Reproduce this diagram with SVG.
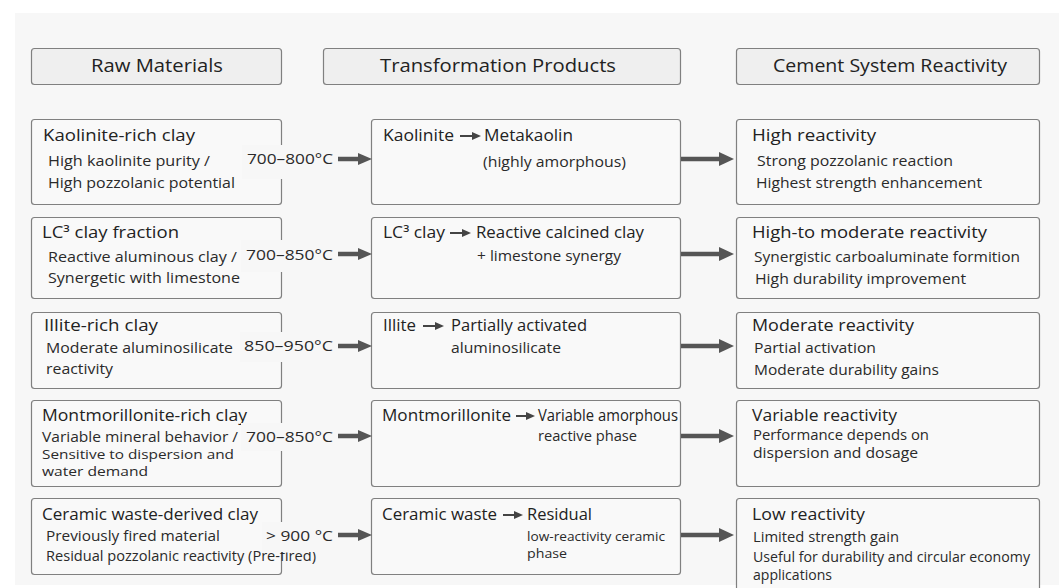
<svg xmlns="http://www.w3.org/2000/svg" width="1059" height="588" viewBox="0 0 1059 588">
<defs>
<style>
.bg{fill:#f7f7f7}
.hdr{fill:#efefef;stroke:#808080;stroke-width:1.2}
.box{fill:#f9f9f9;stroke:#808080;stroke-width:1.2}
text{font-family:"Open Sans","Noto Sans","DejaVu Sans",sans-serif;fill:#222}
.h{font-size:17.5px}
.t{font-size:15.5px}
.b{font-size:14px;fill:#2a2a2a}
.s{font-size:13.8px;fill:#2a2a2a}
.xs{font-size:13px;fill:#2a2a2a}
.temp{font-size:15px;fill:#2a2a2a}
.lblbg{fill:#f7f7f7}
.conn{stroke:#555;stroke-width:4.5;fill:none}
.head{fill:#555}
.ia{stroke:#444;stroke-width:2;fill:none}
.iah{fill:#444}
</style>
</defs>
<rect x="0" y="0" width="1059" height="588" fill="#ffffff"/>
<rect class="bg" x="15" y="13" width="1044" height="572"/>

<g id="header-raw"><rect class="hdr" x="31.5" y="48.5" width="250" height="36" rx="3"/><text class="h" x="91" y="72" textLength="132" lengthAdjust="spacingAndGlyphs">Raw Materials</text></g>
<g id="header-trans"><rect class="hdr" x="323.5" y="48.5" width="357" height="36" rx="3"/><text class="h" x="380" y="72" textLength="236" lengthAdjust="spacingAndGlyphs">Transformation Products</text></g>
<g id="header-react"><rect class="hdr" x="736.5" y="48.5" width="303" height="36" rx="3"/><text class="h" x="773" y="72" textLength="234" lengthAdjust="spacingAndGlyphs">Cement System Reactivity</text></g>

<!-- Row 1 -->
<g id="raw-1"><rect class="box" x="31.5" y="119.5" width="250" height="85" rx="3"/>
<text class="t" x="43" y="141" textLength="152" lengthAdjust="spacingAndGlyphs">Kaolinite-rich clay</text>
<text class="b" x="48" y="166" textLength="162" lengthAdjust="spacingAndGlyphs">High kaolinite purity /</text>
<text class="b" x="48" y="188" textLength="187" lengthAdjust="spacingAndGlyphs">High pozzolanic potential</text></g>
<g id="trans-1"><rect class="box" x="371.5" y="119.5" width="309" height="85" rx="3"/>
<text class="t" x="383" y="141" textLength="71" lengthAdjust="spacingAndGlyphs">Kaolinite</text>
<text class="t" x="484" y="141" textLength="89" lengthAdjust="spacingAndGlyphs">Metakaolin</text>
<text class="b" x="483" y="167" textLength="143" lengthAdjust="spacingAndGlyphs">(highly amorphous)</text>
<line class="ia" x1="460" y1="136" x2="474" y2="136"/><polygon class="iah" points="472,132 481,136 472,140"/></g>
<g id="react-1"><rect class="box" x="736.5" y="119.5" width="303" height="85" rx="3"/>
<text class="t" x="752" y="141" textLength="124" lengthAdjust="spacingAndGlyphs">High reactivity</text>
<text class="b" x="757" y="166" textLength="196" lengthAdjust="spacingAndGlyphs">Strong pozzolanic reaction</text>
<text class="b" x="756" y="188" textLength="226" lengthAdjust="spacingAndGlyphs">Highest strength enhancement</text></g>

<!-- Row 2 -->
<g id="raw-2"><rect class="box" x="31.5" y="217.5" width="250" height="81" rx="3"/>
<text class="t" x="42" y="238" textLength="137" lengthAdjust="spacingAndGlyphs">LC³ clay fraction</text>
<text class="b" x="48" y="262" textLength="189" lengthAdjust="spacingAndGlyphs">Reactive aluminous clay /</text>
<text class="b" x="48" y="283" textLength="192" lengthAdjust="spacingAndGlyphs">Synergetic with limestone</text></g>
<g id="trans-2"><rect class="box" x="371.5" y="217.5" width="309" height="81" rx="3"/>
<text class="t" x="383" y="238" textLength="62" lengthAdjust="spacingAndGlyphs">LC³ clay</text>
<text class="t" x="476" y="238" textLength="168" lengthAdjust="spacingAndGlyphs">Reactive calcined clay</text>
<text class="b" x="477" y="261" textLength="144" lengthAdjust="spacingAndGlyphs">+ limestone synergy</text>
<line class="ia" x1="450" y1="233" x2="464" y2="233"/><polygon class="iah" points="462,229 471,233 462,237"/></g>
<g id="react-2"><rect class="box" x="736.5" y="217.5" width="303" height="81" rx="3"/>
<text class="t" x="752" y="238" textLength="235" lengthAdjust="spacingAndGlyphs">High-to moderate reactivity</text>
<text class="b" x="754" y="262" textLength="266" lengthAdjust="spacingAndGlyphs">Synergistic carboaluminate formition</text>
<text class="b" x="755" y="284" textLength="211" lengthAdjust="spacingAndGlyphs">High durability improvement</text></g>

<!-- Row 3 -->
<g id="raw-3"><rect class="box" x="31.5" y="312.5" width="250" height="76" rx="3"/>
<text class="t" x="44" y="331" textLength="114" lengthAdjust="spacingAndGlyphs">Illite-rich clay</text>
<text class="b" x="46" y="353" textLength="187" lengthAdjust="spacingAndGlyphs">Moderate aluminosilicate</text>
<text class="b" x="46" y="374" textLength="67" lengthAdjust="spacingAndGlyphs">reactivity</text></g>
<g id="trans-3"><rect class="box" x="371.5" y="312.5" width="309" height="76" rx="3"/>
<text class="t" x="383" y="331" textLength="33" lengthAdjust="spacingAndGlyphs">Illite</text>
<text class="t" x="451" y="331" textLength="136" lengthAdjust="spacingAndGlyphs">Partially activated</text>
<text class="b" x="451" y="353" textLength="110" lengthAdjust="spacingAndGlyphs">aluminosilicate</text>
<line class="ia" x1="423" y1="326" x2="437" y2="326"/><polygon class="iah" points="435,322 444,326 435,330"/></g>
<g id="react-3"><rect class="box" x="736.5" y="312.5" width="303" height="76" rx="3"/>
<text class="t" x="752" y="331" textLength="162" lengthAdjust="spacingAndGlyphs">Moderate reactivity</text>
<text class="b" x="754" y="353" textLength="122" lengthAdjust="spacingAndGlyphs">Partial activation</text>
<text class="b" x="754" y="375" textLength="185" lengthAdjust="spacingAndGlyphs">Moderate durability gains</text></g>

<!-- Row 4 -->
<g id="raw-4"><rect class="box" x="31.5" y="400.5" width="250" height="86" rx="3"/>
<text class="t" x="42" y="421" textLength="205" lengthAdjust="spacingAndGlyphs">Montmorillonite-rich clay</text>
<text class="b" x="42" y="442" textLength="196" lengthAdjust="spacingAndGlyphs">Variable mineral behavior /</text>
<text class="xs" x="42" y="459" textLength="192" lengthAdjust="spacingAndGlyphs">Sensitive to dispersion and</text>
<text class="xs" x="42" y="476" textLength="106" lengthAdjust="spacingAndGlyphs">water demand</text></g>
<g id="trans-4"><rect class="box" x="371.5" y="400.5" width="309" height="86" rx="3"/>
<text class="t" x="382" y="421" textLength="129" lengthAdjust="spacingAndGlyphs">Montmorillonite</text>
<text class="t" x="538" y="421" textLength="140" lengthAdjust="spacingAndGlyphs">Variable amorphous</text>
<text class="b" x="538" y="441" textLength="99" lengthAdjust="spacingAndGlyphs">reactive phase</text>
<line class="ia" x1="516" y1="416" x2="528" y2="416"/><polygon class="iah" points="526,412 535,416 526,420"/></g>
<g id="react-4"><rect class="box" x="736.5" y="400.5" width="303" height="86" rx="3"/>
<text class="t" x="752" y="421" textLength="145" lengthAdjust="spacingAndGlyphs">Variable reactivity</text>
<text class="s" x="753" y="440" textLength="176" lengthAdjust="spacingAndGlyphs">Performance depends on</text>
<text class="s" x="753" y="458" textLength="165" lengthAdjust="spacingAndGlyphs">dispersion and dosage</text></g>

<!-- Row 5 -->
<g id="raw-5"><rect class="box" x="31.5" y="498.5" width="250" height="76" rx="3"/>
<text class="t" x="42" y="520" textLength="216" lengthAdjust="spacingAndGlyphs">Ceramic waste-derived clay</text>
<text class="b" x="46" y="541" textLength="174" lengthAdjust="spacingAndGlyphs">Previously fired material</text>
<text class="b" x="46" y="561" textLength="270" lengthAdjust="spacingAndGlyphs">Residual pozzolanic reactivity (Pre-fired)</text></g>
<g id="trans-5"><rect class="box" x="371.5" y="498.5" width="309" height="76" rx="3"/>
<text class="t" x="382" y="520" textLength="115" lengthAdjust="spacingAndGlyphs">Ceramic waste</text>
<text class="t" x="527" y="520" textLength="65" lengthAdjust="spacingAndGlyphs">Residual</text>
<text class="xs" x="527" y="541" textLength="138" lengthAdjust="spacingAndGlyphs">low-reactivity ceramic</text>
<text class="xs" x="527" y="558" textLength="40" lengthAdjust="spacingAndGlyphs">phase</text>
<line class="ia" x1="503" y1="515" x2="516" y2="515"/><polygon class="iah" points="514,511 523,515 514,519"/></g>
<g id="react-5"><rect class="box" x="736.5" y="498.5" width="303" height="100" rx="3"/>
<text class="t" x="752" y="520" textLength="113" lengthAdjust="spacingAndGlyphs">Low reactivity</text>
<text class="b" x="753" y="542" textLength="146" lengthAdjust="spacingAndGlyphs">Limited strength gain</text>
<text class="b" x="753" y="562" textLength="277" lengthAdjust="spacingAndGlyphs">Useful for durability and circular economy</text>
<text class="s" x="753" y="580" textLength="79" lengthAdjust="spacingAndGlyphs">applications</text></g>

<g id="connectors">
<rect class="lblbg" x="242" y="145" width="96" height="34"/>
<text class="temp" x="247" y="164" textLength="86" lengthAdjust="spacingAndGlyphs">700–800°C</text>
<rect class="lblbg" x="241" y="240" width="97" height="32"/>
<text class="temp" x="246" y="260" textLength="87" lengthAdjust="spacingAndGlyphs">700–850°C</text>
<rect class="lblbg" x="240" y="332" width="98" height="30"/>
<text class="temp" x="244" y="351" textLength="89" lengthAdjust="spacingAndGlyphs">850–950°C</text>
<rect class="lblbg" x="241" y="423" width="97" height="28"/>
<text class="temp" x="246" y="442" textLength="87" lengthAdjust="spacingAndGlyphs">700–850°C</text>
<rect class="lblbg" x="262" y="522" width="76" height="30"/>
<text class="temp" x="266" y="541" textLength="67" lengthAdjust="spacingAndGlyphs">&gt; 900 °C</text>

<line class="conn" x1="338" y1="159" x2="360" y2="159"/><polygon class="head" points="358,153 372,159 358,165"/>
<line class="conn" x1="338" y1="254" x2="360" y2="254"/><polygon class="head" points="358,248 372,254 358,260"/>
<line class="conn" x1="338" y1="346" x2="360" y2="346"/><polygon class="head" points="358,340 372,346 358,352"/>
<line class="conn" x1="338" y1="436" x2="360" y2="436"/><polygon class="head" points="358,430 372,436 358,442"/>
<line class="conn" x1="338" y1="535" x2="360" y2="535"/><polygon class="head" points="358,529 372,535 358,541"/>

<line class="conn" x1="681" y1="159" x2="721" y2="159"/><polygon class="head" points="719,152 734,159 719,166"/>
<line class="conn" x1="681" y1="254" x2="721" y2="254"/><polygon class="head" points="719,247 734,254 719,261"/>
<line class="conn" x1="681" y1="346" x2="721" y2="346"/><polygon class="head" points="719,339 734,346 719,353"/>
<line class="conn" x1="681" y1="436" x2="721" y2="436"/><polygon class="head" points="719,429 734,436 719,443"/>
<line class="conn" x1="681" y1="535" x2="721" y2="535"/><polygon class="head" points="719,528 734,535 719,542"/>
</g>
</svg>
